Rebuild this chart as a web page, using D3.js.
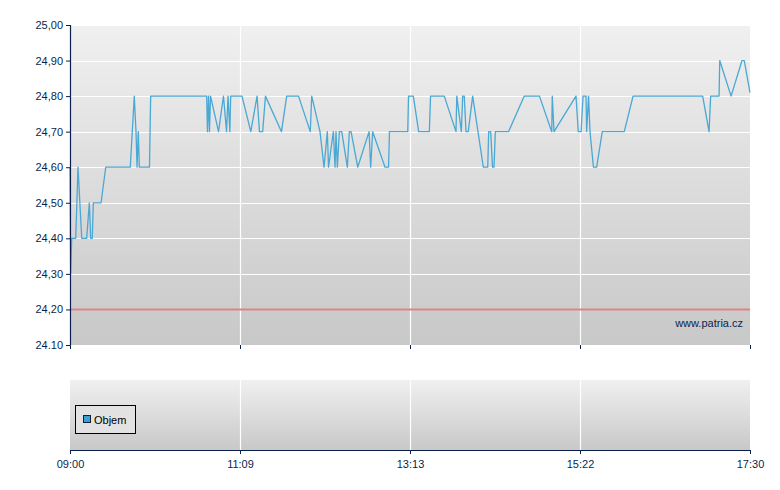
<!DOCTYPE html>
<html><head><meta charset="utf-8">
<script src="https://cdn.jsdelivr.net/npm/d3@7"></script>
<style>body{margin:0;background:#fff}svg{display:block}</style>
</head><body><svg id="c" width="780" height="490"></svg>
<script>
// minutes after 09:00
const times = [0,0.5,1.3,4.3,6.0,8.8,12.5,14.5,15.5,16.7,17.5,23.3,26.8,45.2,48.2,49.5,50.3,51.2,52.0,59.6,60.5,
102.5,103.1,103.9,104.6,105.4,111.4,115.1,117.4,118.5,119.9,120.5,129.0,135.6,140.3,142.1,144.5,146.6,158.6,162.5,171.4,
180.2,181.3,187.5,190.5,193.0,193.9,197.5,198.8,199.5,200.5,202.0,203.8,208.0,209.5,210.8,215.8,224.3,225.5,227.0,236.3,238.9,239.6,
253.3,253.9,257.5,261.5,269.5,270.4,280.7,289.5,290.1,293.5,294.5,295.7,297.0,298.7,302.0,310.0,313.3,314.0,315.5,316.9,318.0,319.0,
328.9,340.7,352.1,361.3,361.7,363.0,379.5,381.2,383.3,384.8,387.0,387.5,388.9,390.0,392.6,395.0,399.2,415.7,422.3,
474.5,479.3,480.5,486.8,487.3,495.8,504.0,505.7,510];
const prices = [24.60,24.30,24.40,24.40,24.60,24.40,24.40,24.50,24.40,24.40,24.50,24.50,24.60,24.60,24.80,24.70,24.60,24.70,24.60,24.60,24.80,
24.80,24.70,24.80,24.70,24.80,24.70,24.80,24.70,24.80,24.70,24.80,24.80,24.70,24.80,24.70,24.70,24.80,24.70,24.80,24.80,
24.70,24.80,24.70,24.60,24.70,24.60,24.70,24.60,24.70,24.60,24.70,24.70,24.60,24.70,24.70,24.60,24.70,24.60,24.70,24.60,24.60,24.70,
24.70,24.80,24.80,24.70,24.70,24.80,24.80,24.70,24.80,24.70,24.80,24.80,24.70,24.70,24.80,24.60,24.60,24.70,24.70,24.60,24.60,24.70,
24.70,24.80,24.80,24.70,24.80,24.70,24.80,24.70,24.70,24.80,24.80,24.70,24.80,24.70,24.60,24.60,24.70,24.70,24.80,
24.80,24.70,24.80,24.80,24.90,24.80,24.90,24.90,24.81];
const prevClose = 24.20;
const yTicks = [24.1,24.2,24.3,24.4,24.5,24.6,24.7,24.8,24.9,25.0];
const yTickLabels = ["24.10","24,20","24,30","24,40","24,50","24,60","24,70","24,80","24,90","25,00"];
const xTicks = [0,127.5,255,382.5,510];
const xTickLabels = ["09:00","11:09","13:13","15:22","17:30"];
const legendLabel = "Objem";
const watermark = "www.patria.cz";

const svg = d3.select("#c");
const navy = "#0b1f4f";
const font = "'Liberation Sans', Arial, sans-serif";
const L = 70, R = 750, T = 25, B = 345, T2 = 380, B2 = 450;

const x = d3.scaleLinear().domain([0,510]).range([L,R]);
const y = d3.scaleLinear().domain([24.1,25.0]).range([B,T]);

const defs = svg.append("defs");
const g1 = defs.append("linearGradient").attr("id","bg").attr("x1",0).attr("y1",0).attr("x2",0).attr("y2",1);
g1.append("stop").attr("offset","0%").attr("stop-color","#f0f0f0");
g1.append("stop").attr("offset","100%").attr("stop-color","#c8c8c8");

// main panel
svg.append("rect").attr("x",L).attr("y",T).attr("width",R-L).attr("height",B-T).attr("fill","url(#bg)");
svg.append("g").selectAll("line").data(yTicks).join("line")
  .attr("x1",L).attr("x2",R).attr("y1",d=>Math.round(y(d))+0.5).attr("y2",d=>Math.round(y(d))+0.5)
  .attr("stroke","#fff").attr("stroke-width",1.2);
svg.append("g").selectAll("line").data(xTicks.slice(1,-1)).join("line")
  .attr("x1",d=>Math.round(x(d))+0.5).attr("x2",d=>Math.round(x(d))+0.5).attr("y1",T).attr("y2",B)
  .attr("stroke","#fff").attr("stroke-width",1.2);

// previous close
svg.append("line").attr("x1",L).attr("x2",R).attr("y1",y(prevClose)).attr("y2",y(prevClose))
  .attr("stroke","#dd8585").attr("stroke-width",2);

svg.append("text").attr("x",743).attr("y",327).attr("text-anchor","end")
  .attr("font-family",font).attr("font-size",11).attr("fill",navy).text(watermark);

// price line
const pts = times.map((t,i)=>[t,prices[i]]);
svg.append("path").datum(pts)
  .attr("d", d3.line().x(d=>x(d[0])).y(d=>y(d[1])))
  .attr("fill","none").attr("stroke","#4aa8d4").attr("stroke-width",1.3).attr("stroke-linejoin","round");

// axes main
const yAxis = svg.append("g").attr("transform",`translate(${L},0)`)
  .call(d3.axisLeft(y).tickValues(yTicks).tickSize(4).tickPadding(3).tickFormat((d,i)=>yTickLabels[i]));
const xAxis1 = svg.append("g").attr("transform",`translate(0,${B})`)
  .call(d3.axisBottom(x).tickValues(xTicks).tickSize(4).tickFormat(""));
[yAxis,xAxis1].forEach(a=>{
  a.select(".domain").attr("stroke",navy).attr("stroke-width",1.2).attr("d", null);
  a.selectAll(".tick line").attr("stroke",navy);
  a.selectAll("text").attr("font-family",font).attr("font-size",11).attr("fill",navy);
});
yAxis.select(".domain").attr("d",`M0.5,${T}V${B}`);
xAxis1.select(".domain").attr("d",`M${L},${B+0.5}H${R}`);

// volume panel
svg.append("rect").attr("x",L).attr("y",T2).attr("width",R-L).attr("height",B2-T2).attr("fill","url(#bg)");
svg.append("g").selectAll("line").data(xTicks.slice(1,-1)).join("line")
  .attr("x1",d=>Math.round(x(d))+0.5).attr("x2",d=>Math.round(x(d))+0.5).attr("y1",T2).attr("y2",B2)
  .attr("stroke","#fff").attr("stroke-width",1.2);
const xAxis2 = svg.append("g").attr("transform",`translate(0,${B2})`)
  .call(d3.axisBottom(x).tickValues(xTicks).tickSize(4).tickPadding(6).tickFormat((d,i)=>xTickLabels[i]));
xAxis2.select(".domain").attr("stroke",navy).attr("stroke-width",1.2).attr("d",`M${L},0.5H${R}`);
xAxis2.selectAll(".tick line").attr("stroke",navy);
xAxis2.selectAll("text").attr("font-family",font).attr("font-size",11).attr("fill",navy);

// legend
const lg = svg.append("g");
lg.append("rect").attr("x",75.5).attr("y",405.5).attr("width",60).attr("height",28)
  .attr("fill","#e2e2e2").attr("stroke","#000").attr("stroke-width",1);
lg.append("rect").attr("x",83.5).attr("y",415.5).attr("width",7).attr("height",7)
  .attr("fill","#3f9fd2").attr("stroke","#123").attr("stroke-width",1);
lg.append("text").attr("x",94).attr("y",423.5).attr("font-family",font).attr("font-size",11)
  .attr("fill","#000").text(legendLabel);
</script></body></html>
